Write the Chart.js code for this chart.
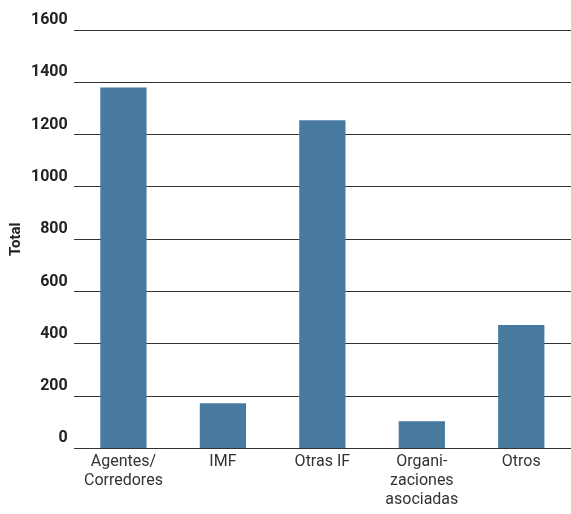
<!DOCTYPE html>
<html>
<head>
<meta charset="utf-8">
<script src="https://cdn.jsdelivr.net/npm/chart.js@4"></script>
<style>
  body { margin: 0; background: #fff; }
  #wrap { width: 571px; height: 514px; }
</style>
</head>
<body>
<div id="wrap"><canvas id="myChart"></canvas></div>
<script>
'use strict';

// categories and values
let categories = [['Agentes/', 'Corredores'], 'IMF', 'Otras IF', ['Organi-', 'zaciones', 'asociadas'], 'Otros'];
let totals = [1380, 173, 1255, 104, 472];
let yTicks = [0, 200, 400, 600, 800, 1000, 1200, 1400, 1600];

let ctx = document.getElementById('myChart').getContext('2d');

let chart = new Chart(ctx, {
    type: 'bar',
    data: {
        labels: categories,
        datasets: [{
            label: 'Total',
            data: totals,
            backgroundColor: '#48799f',
            barPercentage: 0.465,
            categoryPercentage: 1
        }]
    },
    options: {
        responsive: true,
        maintainAspectRatio: false,
        animation: false,
        layout: { padding: { top: 30, right: 0, left: 7, bottom: 0 } },
        plugins: {
            legend: { display: false },
            tooltip: { enabled: false }
        },
        scales: {
            x: {
                grid: { display: false, drawTicks: false },
                border: { display: false },
                ticks: {
                    color: '#333',
                    font: { family: 'Roboto', size: 16, lineHeight: 1.2 },
                    padding: 4,
                    maxRotation: 0,
                    autoSkip: false
                }
            },
            y: {
                min: 0,
                max: 1600,
                afterBuildTicks: function (axis) {
                    axis.ticks = yTicks.map(function (v) { return { value: v }; });
                },
                grid: { color: '#333', lineWidth: 1, drawTicks: false },
                border: { display: false },
                title: {
                    display: true,
                    text: 'Total',
                    color: '#222',
                    font: { family: 'Roboto', size: 15, weight: 'bold' },
                    padding: { top: 0, bottom: 0 }
                },
                ticks: {
                    color: '#222',
                    font: { family: 'Roboto', size: 16, weight: 'bold' },
                    padding: 6,
                    labelOffset: -10,
                    callback: function (value) { return String(value); }
                }
            }
        }
    }
});
</script>
</body>
</html>
